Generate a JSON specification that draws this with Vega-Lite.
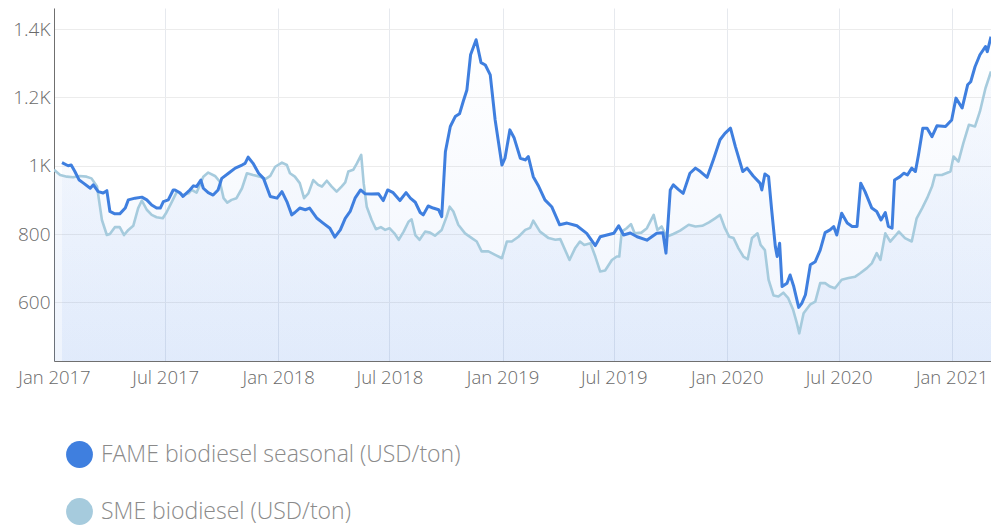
{
  "$schema": "https://vega.github.io/schema/vega-lite/v6.json",
  "width": 937,
  "height": 353,
  "autosize": {"type": "none"},
  "padding": {"left": 54, "top": 8, "right": 0, "bottom": 165},
  "background": "white",
  "config": {"view": {"stroke": null}, "font": "Open Sans"},
  "datasets": {
    "fame": [
      {"date": "2017-01-14", "value": 1009}, {"date": "2017-01-24", "value": 1000}, {"date": "2017-01-29", "value": 1002},
      {"date": "2017-02-04", "value": 983}, {"date": "2017-02-11", "value": 958}, {"date": "2017-02-18", "value": 949},
      {"date": "2017-03-01", "value": 934}, {"date": "2017-03-06", "value": 944}, {"date": "2017-03-14", "value": 924},
      {"date": "2017-03-22", "value": 920}, {"date": "2017-03-28", "value": 927}, {"date": "2017-04-02", "value": 866},
      {"date": "2017-04-10", "value": 859}, {"date": "2017-04-18", "value": 859}, {"date": "2017-04-27", "value": 876},
      {"date": "2017-05-02", "value": 900}, {"date": "2017-05-13", "value": 905}, {"date": "2017-05-24", "value": 908},
      {"date": "2017-06-01", "value": 900}, {"date": "2017-06-09", "value": 885}, {"date": "2017-06-17", "value": 876},
      {"date": "2017-06-23", "value": 876}, {"date": "2017-06-28", "value": 895}, {"date": "2017-07-06", "value": 900},
      {"date": "2017-07-14", "value": 929}, {"date": "2017-07-17", "value": 929}, {"date": "2017-07-25", "value": 921},
      {"date": "2017-07-30", "value": 910}, {"date": "2017-08-10", "value": 929}, {"date": "2017-08-16", "value": 941},
      {"date": "2017-08-21", "value": 939}, {"date": "2017-08-28", "value": 958}, {"date": "2017-09-01", "value": 934},
      {"date": "2017-09-09", "value": 921}, {"date": "2017-09-17", "value": 914}, {"date": "2017-09-25", "value": 929},
      {"date": "2017-10-01", "value": 963}, {"date": "2017-10-12", "value": 978}, {"date": "2017-10-23", "value": 993},
      {"date": "2017-11-03", "value": 1002}, {"date": "2017-11-08", "value": 1007}, {"date": "2017-11-13", "value": 1025},
      {"date": "2017-11-21", "value": 1007}, {"date": "2017-11-30", "value": 978}, {"date": "2017-12-08", "value": 963},
      {"date": "2017-12-19", "value": 910}, {"date": "2017-12-30", "value": 905}, {"date": "2018-01-07", "value": 924},
      {"date": "2018-01-15", "value": 895}, {"date": "2018-01-23", "value": 856}, {"date": "2018-01-28", "value": 863},
      {"date": "2018-02-05", "value": 876}, {"date": "2018-02-14", "value": 871}, {"date": "2018-02-21", "value": 876},
      {"date": "2018-03-05", "value": 846}, {"date": "2018-03-15", "value": 832}, {"date": "2018-03-26", "value": 817},
      {"date": "2018-04-03", "value": 791}, {"date": "2018-04-12", "value": 812}, {"date": "2018-04-20", "value": 846},
      {"date": "2018-04-28", "value": 866}, {"date": "2018-05-06", "value": 905}, {"date": "2018-05-15", "value": 929},
      {"date": "2018-05-22", "value": 918}, {"date": "2018-06-02", "value": 917}, {"date": "2018-06-13", "value": 918},
      {"date": "2018-06-21", "value": 898}, {"date": "2018-06-28", "value": 929}, {"date": "2018-07-07", "value": 921},
      {"date": "2018-07-18", "value": 898}, {"date": "2018-07-28", "value": 921}, {"date": "2018-08-04", "value": 905},
      {"date": "2018-08-12", "value": 893}, {"date": "2018-08-20", "value": 863}, {"date": "2018-08-25", "value": 856},
      {"date": "2018-09-02", "value": 882}, {"date": "2018-09-10", "value": 876}, {"date": "2018-09-19", "value": 871},
      {"date": "2018-09-24", "value": 851}, {"date": "2018-09-30", "value": 1041}, {"date": "2018-10-08", "value": 1115},
      {"date": "2018-10-16", "value": 1144}, {"date": "2018-10-23", "value": 1152}, {"date": "2018-10-29", "value": 1188},
      {"date": "2018-11-04", "value": 1222}, {"date": "2018-11-10", "value": 1325}, {"date": "2018-11-19", "value": 1369},
      {"date": "2018-11-27", "value": 1302}, {"date": "2018-12-04", "value": 1295}, {"date": "2018-12-12", "value": 1266},
      {"date": "2018-12-20", "value": 1134}, {"date": "2018-12-31", "value": 1002}, {"date": "2019-01-05", "value": 1022},
      {"date": "2019-01-13", "value": 1105}, {"date": "2019-01-20", "value": 1081}, {"date": "2019-01-30", "value": 1022},
      {"date": "2019-02-07", "value": 1017}, {"date": "2019-02-12", "value": 1027}, {"date": "2019-02-20", "value": 968},
      {"date": "2019-03-01", "value": 939}, {"date": "2019-03-11", "value": 900}, {"date": "2019-03-22", "value": 880},
      {"date": "2019-04-04", "value": 827}, {"date": "2019-04-16", "value": 832}, {"date": "2019-05-02", "value": 824},
      {"date": "2019-05-18", "value": 802}, {"date": "2019-06-01", "value": 766}, {"date": "2019-06-09", "value": 792},
      {"date": "2019-06-20", "value": 797}, {"date": "2019-07-01", "value": 802}, {"date": "2019-07-09", "value": 824},
      {"date": "2019-07-17", "value": 797}, {"date": "2019-07-28", "value": 803}, {"date": "2019-08-08", "value": 792},
      {"date": "2019-08-24", "value": 782}, {"date": "2019-08-29", "value": 788}, {"date": "2019-09-09", "value": 802},
      {"date": "2019-09-19", "value": 804}, {"date": "2019-09-24", "value": 744}, {"date": "2019-10-01", "value": 929},
      {"date": "2019-10-06", "value": 944}, {"date": "2019-10-14", "value": 931}, {"date": "2019-10-22", "value": 919},
      {"date": "2019-11-02", "value": 978}, {"date": "2019-11-11", "value": 993}, {"date": "2019-11-19", "value": 983},
      {"date": "2019-11-30", "value": 966}, {"date": "2019-12-10", "value": 1017}, {"date": "2019-12-21", "value": 1076},
      {"date": "2019-12-29", "value": 1095}, {"date": "2020-01-07", "value": 1110}, {"date": "2020-01-15", "value": 1056},
      {"date": "2020-01-27", "value": 983}, {"date": "2020-02-03", "value": 993}, {"date": "2020-02-13", "value": 970},
      {"date": "2020-02-24", "value": 949}, {"date": "2020-02-27", "value": 929}, {"date": "2020-03-03", "value": 976},
      {"date": "2020-03-09", "value": 968}, {"date": "2020-03-14", "value": 871}, {"date": "2020-03-20", "value": 763},
      {"date": "2020-03-23", "value": 734}, {"date": "2020-03-27", "value": 773}, {"date": "2020-03-31", "value": 646},
      {"date": "2020-04-08", "value": 656}, {"date": "2020-04-13", "value": 680}, {"date": "2020-04-19", "value": 646},
      {"date": "2020-04-27", "value": 585}, {"date": "2020-05-02", "value": 597}, {"date": "2020-05-08", "value": 622},
      {"date": "2020-05-16", "value": 710}, {"date": "2020-05-24", "value": 719}, {"date": "2020-06-01", "value": 753},
      {"date": "2020-06-09", "value": 804}, {"date": "2020-06-17", "value": 812}, {"date": "2020-06-23", "value": 822},
      {"date": "2020-06-28", "value": 797}, {"date": "2020-07-06", "value": 861}, {"date": "2020-07-15", "value": 832},
      {"date": "2020-07-23", "value": 822}, {"date": "2020-07-31", "value": 822}, {"date": "2020-08-06", "value": 949},
      {"date": "2020-08-13", "value": 924}, {"date": "2020-08-24", "value": 876}, {"date": "2020-09-01", "value": 866},
      {"date": "2020-09-08", "value": 841}, {"date": "2020-09-15", "value": 863}, {"date": "2020-09-20", "value": 822},
      {"date": "2020-09-26", "value": 817}, {"date": "2020-09-30", "value": 958}, {"date": "2020-10-09", "value": 968},
      {"date": "2020-10-15", "value": 978}, {"date": "2020-10-21", "value": 973}, {"date": "2020-10-28", "value": 993},
      {"date": "2020-11-03", "value": 983}, {"date": "2020-11-08", "value": 1032}, {"date": "2020-11-15", "value": 1110},
      {"date": "2020-11-22", "value": 1110}, {"date": "2020-11-30", "value": 1085}, {"date": "2020-12-08", "value": 1117},
      {"date": "2020-12-22", "value": 1115}, {"date": "2021-01-01", "value": 1134}, {"date": "2021-01-08", "value": 1198},
      {"date": "2021-01-18", "value": 1169}, {"date": "2021-01-27", "value": 1237}, {"date": "2021-02-01", "value": 1246},
      {"date": "2021-02-08", "value": 1290}, {"date": "2021-02-16", "value": 1325}, {"date": "2021-02-25", "value": 1349},
      {"date": "2021-02-28", "value": 1334}, {"date": "2021-03-06", "value": 1378}
    ],
    "sme": [
      {"date": "2017-01-01", "value": 988}, {"date": "2017-01-11", "value": 973}, {"date": "2017-01-22", "value": 968},
      {"date": "2017-02-01", "value": 966}, {"date": "2017-02-12", "value": 970}, {"date": "2017-02-23", "value": 968},
      {"date": "2017-03-03", "value": 963}, {"date": "2017-03-12", "value": 939}, {"date": "2017-03-20", "value": 841},
      {"date": "2017-03-28", "value": 797}, {"date": "2017-04-02", "value": 800}, {"date": "2017-04-10", "value": 820},
      {"date": "2017-04-18", "value": 820}, {"date": "2017-04-25", "value": 797}, {"date": "2017-05-02", "value": 812},
      {"date": "2017-05-10", "value": 824}, {"date": "2017-05-18", "value": 876}, {"date": "2017-05-24", "value": 898},
      {"date": "2017-06-01", "value": 871}, {"date": "2017-06-09", "value": 856}, {"date": "2017-06-17", "value": 849},
      {"date": "2017-06-27", "value": 846}, {"date": "2017-07-03", "value": 863}, {"date": "2017-07-12", "value": 895},
      {"date": "2017-07-20", "value": 924}, {"date": "2017-07-30", "value": 914}, {"date": "2017-08-08", "value": 919},
      {"date": "2017-08-13", "value": 929}, {"date": "2017-08-21", "value": 921}, {"date": "2017-09-01", "value": 968},
      {"date": "2017-09-09", "value": 980}, {"date": "2017-09-20", "value": 970}, {"date": "2017-09-28", "value": 953},
      {"date": "2017-10-04", "value": 905}, {"date": "2017-10-10", "value": 892}, {"date": "2017-10-17", "value": 900},
      {"date": "2017-10-25", "value": 905}, {"date": "2017-11-03", "value": 934}, {"date": "2017-11-11", "value": 978},
      {"date": "2017-11-21", "value": 973}, {"date": "2017-12-02", "value": 968}, {"date": "2017-12-11", "value": 961},
      {"date": "2017-12-19", "value": 970}, {"date": "2017-12-27", "value": 997}, {"date": "2018-01-07", "value": 1009},
      {"date": "2018-01-15", "value": 1002}, {"date": "2018-01-20", "value": 978}, {"date": "2018-01-28", "value": 968},
      {"date": "2018-02-05", "value": 949}, {"date": "2018-02-12", "value": 905}, {"date": "2018-02-19", "value": 919},
      {"date": "2018-02-27", "value": 958}, {"date": "2018-03-07", "value": 944}, {"date": "2018-03-13", "value": 939},
      {"date": "2018-03-21", "value": 956}, {"date": "2018-03-29", "value": 939}, {"date": "2018-04-06", "value": 924},
      {"date": "2018-04-14", "value": 939}, {"date": "2018-04-20", "value": 951}, {"date": "2018-04-25", "value": 983},
      {"date": "2018-05-03", "value": 988}, {"date": "2018-05-09", "value": 1007}, {"date": "2018-05-16", "value": 1032},
      {"date": "2018-05-20", "value": 949}, {"date": "2018-05-25", "value": 880}, {"date": "2018-06-02", "value": 841},
      {"date": "2018-06-09", "value": 814}, {"date": "2018-06-17", "value": 820}, {"date": "2018-06-24", "value": 812},
      {"date": "2018-07-01", "value": 817}, {"date": "2018-07-09", "value": 802}, {"date": "2018-07-16", "value": 783},
      {"date": "2018-07-24", "value": 807}, {"date": "2018-08-01", "value": 836}, {"date": "2018-08-06", "value": 843},
      {"date": "2018-08-12", "value": 797}, {"date": "2018-08-19", "value": 783}, {"date": "2018-08-28", "value": 807},
      {"date": "2018-09-05", "value": 804}, {"date": "2018-09-13", "value": 795}, {"date": "2018-09-24", "value": 812},
      {"date": "2018-10-02", "value": 851}, {"date": "2018-10-07", "value": 880}, {"date": "2018-10-13", "value": 866},
      {"date": "2018-10-21", "value": 827}, {"date": "2018-11-01", "value": 802}, {"date": "2018-11-12", "value": 788},
      {"date": "2018-11-20", "value": 778}, {"date": "2018-11-28", "value": 749}, {"date": "2018-12-09", "value": 749},
      {"date": "2018-12-20", "value": 739}, {"date": "2018-12-31", "value": 729}, {"date": "2019-01-08", "value": 778},
      {"date": "2019-01-16", "value": 778}, {"date": "2019-01-27", "value": 792}, {"date": "2019-02-07", "value": 812},
      {"date": "2019-02-15", "value": 818}, {"date": "2019-02-20", "value": 839}, {"date": "2019-03-03", "value": 807},
      {"date": "2019-03-17", "value": 788}, {"date": "2019-03-28", "value": 783}, {"date": "2019-04-05", "value": 785},
      {"date": "2019-04-20", "value": 724}, {"date": "2019-04-29", "value": 758}, {"date": "2019-05-07", "value": 778},
      {"date": "2019-05-14", "value": 768}, {"date": "2019-05-24", "value": 773}, {"date": "2019-06-01", "value": 734},
      {"date": "2019-06-09", "value": 690}, {"date": "2019-06-17", "value": 693}, {"date": "2019-06-28", "value": 724},
      {"date": "2019-07-06", "value": 734}, {"date": "2019-07-10", "value": 734}, {"date": "2019-07-14", "value": 807},
      {"date": "2019-07-22", "value": 817}, {"date": "2019-07-29", "value": 829}, {"date": "2019-08-04", "value": 802},
      {"date": "2019-08-15", "value": 804}, {"date": "2019-08-24", "value": 817}, {"date": "2019-09-04", "value": 856},
      {"date": "2019-09-10", "value": 812}, {"date": "2019-09-17", "value": 822}, {"date": "2019-09-25", "value": 792},
      {"date": "2019-10-06", "value": 800}, {"date": "2019-10-17", "value": 810}, {"date": "2019-10-31", "value": 827},
      {"date": "2019-11-11", "value": 822}, {"date": "2019-11-22", "value": 824}, {"date": "2019-12-03", "value": 834},
      {"date": "2019-12-13", "value": 846}, {"date": "2019-12-21", "value": 856}, {"date": "2019-12-29", "value": 817},
      {"date": "2020-01-05", "value": 792}, {"date": "2020-01-12", "value": 788}, {"date": "2020-01-20", "value": 758},
      {"date": "2020-01-28", "value": 734}, {"date": "2020-02-04", "value": 726}, {"date": "2020-02-11", "value": 788},
      {"date": "2020-02-20", "value": 802}, {"date": "2020-02-25", "value": 768}, {"date": "2020-03-03", "value": 753},
      {"date": "2020-03-09", "value": 666}, {"date": "2020-03-17", "value": 620}, {"date": "2020-03-25", "value": 617},
      {"date": "2020-04-02", "value": 628}, {"date": "2020-04-10", "value": 612}, {"date": "2020-04-18", "value": 578},
      {"date": "2020-04-24", "value": 539}, {"date": "2020-04-28", "value": 509}, {"date": "2020-05-05", "value": 568},
      {"date": "2020-05-16", "value": 594}, {"date": "2020-05-24", "value": 602}, {"date": "2020-06-01", "value": 656},
      {"date": "2020-06-09", "value": 656}, {"date": "2020-06-17", "value": 646}, {"date": "2020-06-25", "value": 641},
      {"date": "2020-07-06", "value": 666}, {"date": "2020-07-17", "value": 671}, {"date": "2020-07-28", "value": 675},
      {"date": "2020-08-05", "value": 685}, {"date": "2020-08-16", "value": 700}, {"date": "2020-08-24", "value": 714},
      {"date": "2020-09-01", "value": 744}, {"date": "2020-09-07", "value": 724}, {"date": "2020-09-15", "value": 802},
      {"date": "2020-09-23", "value": 778}, {"date": "2020-09-30", "value": 792}, {"date": "2020-10-07", "value": 807},
      {"date": "2020-10-17", "value": 788}, {"date": "2020-10-28", "value": 778}, {"date": "2020-11-05", "value": 846},
      {"date": "2020-11-14", "value": 876}, {"date": "2020-11-22", "value": 905}, {"date": "2020-11-30", "value": 939},
      {"date": "2020-12-05", "value": 973}, {"date": "2020-12-16", "value": 973}, {"date": "2020-12-30", "value": 983},
      {"date": "2021-01-04", "value": 1027}, {"date": "2021-01-12", "value": 1012}, {"date": "2021-01-20", "value": 1066},
      {"date": "2021-01-29", "value": 1120}, {"date": "2021-02-08", "value": 1115}, {"date": "2021-02-16", "value": 1159},
      {"date": "2021-02-25", "value": 1227}, {"date": "2021-03-06", "value": 1276}
    ]
  },
  "encoding": {
    "x": {
      "field": "date",
      "type": "temporal",
      "scale": {
        "type": "utc",
        "domain": [
          {"year": 2017, "month": 1, "date": 1, "utc": true},
          {"year": 2021, "month": 3, "date": 6, "utc": true}
        ]
      },
      "axis": {
        "title": null,
        "values": [
          {"year": 2017, "month": 1, "date": 1, "utc": true},
          {"year": 2017, "month": 7, "date": 1, "utc": true},
          {"year": 2018, "month": 1, "date": 1, "utc": true},
          {"year": 2018, "month": 7, "date": 1, "utc": true},
          {"year": 2019, "month": 1, "date": 1, "utc": true},
          {"year": 2019, "month": 7, "date": 1, "utc": true},
          {"year": 2020, "month": 1, "date": 1, "utc": true},
          {"year": 2020, "month": 7, "date": 1, "utc": true},
          {"year": 2021, "month": 1, "date": 1, "utc": true}
        ],
        "format": "%b %Y",
        "grid": true,
        "gridColor": "#e6e9ee",
        "ticks": false,
        "domainColor": "#6f6f6f",
        "labelFontSize": 18.5,
        "labelColor": "#6a6a6a",
        "labelFont": "Open Sans",
        "labelFontWeight": 300,
        "labelPadding": 7,
        "labelFlush": false,
        "labelOverlap": false
      }
    },
    "y": {
      "field": "value",
      "type": "quantitative",
      "scale": {"domain": [428, 1462], "nice": false, "zero": false},
      "axis": {
        "title": null,
        "values": [600, 800, 1000, 1200, 1400],
        "labelExpr": "datum.value >= 1000 ? format(datum.value / 1000, '.1~f') + 'K' : format(datum.value, 'd')",
        "grid": true,
        "gridColor": "#ececec",
        "ticks": false,
        "domainColor": "#6f6f6f",
        "labelFontSize": 19,
        "labelColor": "#6a6a6a",
        "labelFont": "Open Sans",
        "labelFontWeight": 300,
        "labelPadding": 4
      }
    }
  },
  "layer": [
    {
      "data": {"name": "sme"},
      "mark": {
        "type": "area",
        "clip": true,
        "color": {
          "gradient": "linear",
          "x1": 0, "y1": 0, "x2": 0, "y2": 1,
          "stops": [
            {"offset": 0, "color": "rgba(74,134,232,0.03)"},
            {"offset": 1, "color": "rgba(74,134,232,0.12)"}
          ]
        }
      }
    },
    {
      "data": {"name": "fame"},
      "mark": {
        "type": "area",
        "clip": true,
        "color": {
          "gradient": "linear",
          "x1": 0, "y1": 0, "x2": 0, "y2": 1,
          "stops": [
            {"offset": 0, "color": "rgba(74,134,232,0.0)"},
            {"offset": 1, "color": "rgba(74,134,232,0.12)"}
          ]
        }
      }
    },
    {
      "data": {"name": "sme"},
      "mark": {"type": "line", "strokeWidth": 2.6, "clip": true, "strokeJoin": "round"},
      "encoding": {"color": {"datum": "SME biodiesel (USD/ton)"}}
    },
    {
      "data": {"name": "fame"},
      "mark": {"type": "line", "strokeWidth": 3, "clip": true, "strokeJoin": "round"},
      "encoding": {
        "color": {
          "datum": "FAME biodiesel seasonal (USD/ton)",
          "scale": {
            "domain": ["FAME biodiesel seasonal (USD/ton)", "SME biodiesel (USD/ton)"],
            "range": ["#3f7fdf", "#a6cbdd"]
          },
          "legend": {
            "orient": "none",
            "legendX": 12,
            "legendY": 433,
            "title": null,
            "direction": "vertical",
            "padding": 0,
            "symbolType": "circle",
            "symbolSize": 720,
            "symbolStrokeWidth": 0,
            "labelFontSize": 23,
            "labelColor": "#8a8a8a",
            "labelFont": "Open Sans",
            "labelFontWeight": 300,
            "labelOffset": 8,
            "rowPadding": 30,
            "labelLimit": 700,
            "encode": {
              "symbols": {
                "update": {
                  "fill": {"scale": "color", "field": "value"},
                  "strokeWidth": {"value": 0},
                  "opacity": {"value": 1}
                }
              }
            }
          }
        }
      }
    }
  ]
}
